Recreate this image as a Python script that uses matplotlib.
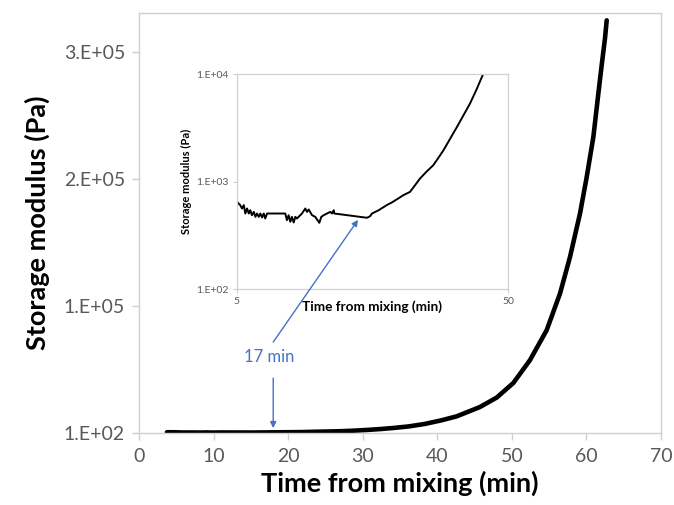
import matplotlib
matplotlib.use("Agg")
import matplotlib.pyplot as plt

plt.rcParams['font.family'] = ['Lato', 'DejaVu Sans']

# ---- data (time from mixing in min, storage modulus in Pa) ----
time_min = [3.75, 5.01, 5.15, 5.23, 5.31, 5.38, 5.46, 5.54, 5.61, 5.69, 5.78,
            5.86, 5.94, 6.03, 6.11, 6.20, 6.29, 6.37, 6.47, 6.56, 7.55, 7.66,
            7.77, 7.88, 7.99, 8.11, 8.22, 8.34, 8.70, 8.95, 9.08, 9.21, 9.48,
            9.74, 10.08, 10.25, 10.46, 10.76, 11.07, 11.23, 11.39, 11.45,
            15.11, 15.5, 15.76, 16.69, 17.86, 18.68, 19.78, 20.56, 21.77,
            23.7, 25.0, 26.5, 27.6, 28.9, 30.6, 32.4, 34.2, 36.2, 38.3, 40.5,
            42.6, 45.7, 47.97, 50.2, 52.43, 54.67, 56.46, 57.8, 59.14, 60.04,
            60.93, 61.6, 62.05, 62.49, 62.72]
modulus_pa = [700, 647, 603, 561, 603, 504, 561, 504, 541, 486, 522,
              469, 504, 469, 504, 463, 504, 453, 504, 504, 504, 437,
              486, 422, 469, 416, 469, 453, 504, 561, 522, 549, 486,
              469, 413, 469, 486, 504, 522, 504, 541, 504,
              460, 475, 504, 541, 603, 640, 700, 746, 801,
              1067, 1230, 1416, 1640, 1950, 2500, 3210, 4100, 5300, 7200, 10000,
              13200, 20500, 28000, 39500, 57500, 81100, 110000, 138800, 173000, 201800,
              233300, 267500, 290000, 311000, 325200]

x_ticks = [0, 10, 20, 30, 40, 50, 60, 70]
y_ticks = [100, 1e5, 2e5, 3e5]
y_tick_labels = ['1.E+02', '1.E+05', '2.E+05', '3.E+05']

inset_x_ticks = [5, 50]
inset_x_tick_labels = ['5', '50']
inset_y_ticks = [1e2, 1e3, 1e4]
inset_y_tick_labels = ['1.E+02', '1.E+03', '1.E+04']

onset_label = '17 min'
onset_arrow_time = 18.0
inset_arrow_target = (14.0, 440)

GRAY = '#595959'
SPINE = '#d0d0d0'
BLUE = '#4472C4'

fig = plt.figure(figsize=(6.74, 5.05), dpi=100)
ax = fig.add_axes([0.2062, 0.1426, 0.7745, 0.8317])

ax.plot(time_min, modulus_pa, color='black', lw=3.3, solid_capstyle='round',
        solid_joinstyle='round')
ax.set_xlim(0, 70)
ax.set_ylim(100, 3.31e5)
ax.set_xticks(x_ticks)
ax.set_yticks(y_ticks)
ax.set_yticklabels(y_tick_labels)
ax.tick_params(axis='both', colors=SPINE, labelcolor=GRAY, labelsize=14,
               length=5, width=1)
ax.tick_params(axis='x', pad=6)
ax.tick_params(axis='y', pad=5)
for s in ax.spines.values():
    s.set_color(SPINE)
    s.set_linewidth(1)
ax.set_xlabel('Time from mixing (min)', fontsize=19.5, fontweight='bold',
              color='black', labelpad=4)
ax.set_ylabel('Storage modulus (Pa)', fontsize=19.5, fontweight='bold',
              color='black', labelpad=10)

# onset annotation
ax.annotate('', xy=(onset_arrow_time, 3.9e3), xytext=(onset_arrow_time, 4.33e4),
            arrowprops=dict(arrowstyle='-|>', color=BLUE, lw=1,
                            mutation_scale=9, shrinkA=0, shrinkB=0))
ax.text(onset_arrow_time - 0.6, 5.98e4, onset_label, color=BLUE, fontsize=12,
        ha='center', va='center')

# ---- inset ----
axin = fig.add_axes([0.3512, 0.4277, 0.4025, 0.4257])
axin.plot(time_min, modulus_pa, color='black', lw=1.4)
axin.set_xscale('log')
axin.set_yscale('log')
axin.set_xlim(5, 50)
axin.set_ylim(1e2, 1e4)
axin.set_xticks(inset_x_ticks)
axin.set_xticklabels(inset_x_tick_labels)
axin.set_yticks(inset_y_ticks)
axin.set_yticklabels(inset_y_tick_labels)
axin.minorticks_off()
axin.tick_params(axis='both', colors=SPINE, labelcolor=GRAY, labelsize=7.5,
                 length=3, width=0.8, pad=3)
for s in axin.spines.values():
    s.set_color(SPINE)
    s.set_linewidth(0.9)
axin.set_xlabel('Time from mixing (min)', fontsize=9.8, fontweight='bold',
                color='black', labelpad=-4)
axin.set_ylabel('Storage modulus (Pa)', fontsize=8, fontweight='bold',
                color='black', labelpad=3)

axin.annotate('', xy=inset_arrow_target, xycoords=axin.transData,
              xytext=(onset_arrow_time, 7.17e4), textcoords=ax.transData,
              arrowprops=dict(arrowstyle='-|>', color=BLUE, lw=1,
                              mutation_scale=9, shrinkA=0, shrinkB=0),
              annotation_clip=False)

fig.savefig('out.png', dpi=100)
